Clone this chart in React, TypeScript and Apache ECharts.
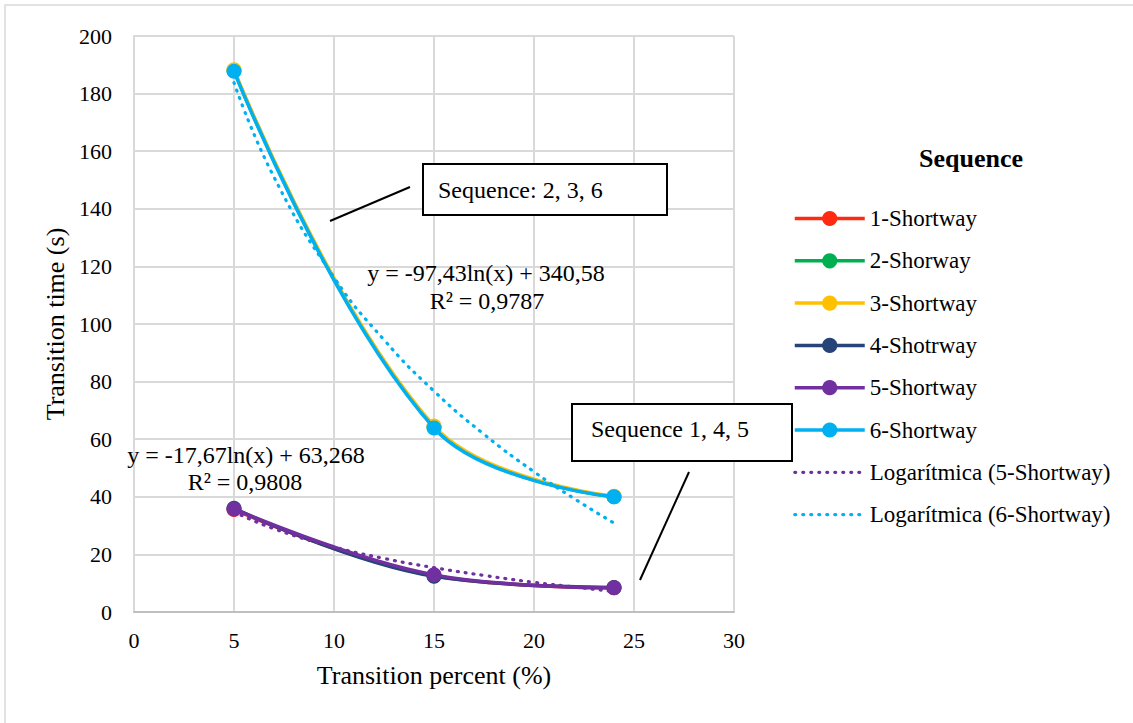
import React, { useEffect, useRef } from "react";
import * as echarts from "echarts";

const FONT = '"Liberation Serif", "Times New Roman", serif';

const xValues = [5, 15, 24];
const seriesNames = ["1-Shortway", "2-Shorway", "3-Shortway", "4-Shotrway", "5-Shortway", "6-Shortway"];
const seriesColors = ["#FF2A12", "#00B050", "#FFC000", "#264478", "#7030A0", "#00B0F0"];
const s1 = [35.6, 12.6, 8.4];
const s2 = [188, 64.2, 40];
const s3 = [188.3, 64.6, 40.2];
const s4 = [36, 12.4, 8.5];
const s5 = [35.8, 12.9, 8.4];
const s6 = [187.8, 63.9, 40];
const seriesValues = [s1, s2, s3, s4, s5, s6];

const trendX = [5, 7, 10, 12.5, 15, 17.5, 20, 22, 24];
const trend5 = [34.8, 28.9, 22.6, 18.6, 15.4, 12.7, 10.3, 8.7, 7.1];
const trend6 = [183.8, 151.0, 116.2, 94.5, 76.7, 61.7, 48.7, 39.4, 30.9];
const trendNames = ["Logarítmica (5-Shortway)", "Logarítmica (6-Shortway)"];
const trendColors = ["#7030A0", "#00B0F0"];
const trendValues = [trend5, trend6];

const xTicks = [0, 30, 5];
const yTicks = [0, 200, 20];

const DOT: [number, number] = [1, 7];

export default function App() {
  const ref = useRef<HTMLDivElement>(null);
  useEffect(() => {
    if (!ref.current) return;
    const chart = echarts.init(ref.current, undefined, { renderer: "svg" });
    const series: any[] = seriesNames.map((name, i) => ({
      name,
      type: "line",
      smooth: 0.4,
      data: xValues.map((x, j) => [x, seriesValues[i][j]]),
      symbol: "circle",
      symbolSize: 15,
      itemStyle: { color: seriesColors[i] },
      lineStyle: { color: seriesColors[i], width: 3.5 },
      z: 2 + i,
    }));
    trendNames.forEach((name, k) => {
      series.push({
        name,
        type: "line",
        smooth: true,
        data: trendX.map((x, j) => [x, trendValues[k][j]]),
        symbol: "none",
        itemStyle: { color: trendColors[k] },
        lineStyle: { color: trendColors[k], width: 3.2, type: DOT, cap: "round" },
        z: 10,
      });
    });

    const legendData: any[] = [
      ...seriesNames.map((name, i) => ({
        name,
        lineStyle: { width: 3.5, color: seriesColors[i] },
      })),
      ...trendNames.map((name, k) => ({
        name,
        itemStyle: { opacity: 0 },
        lineStyle: { width: 3.2, color: trendColors[k], type: DOT, cap: "round" },
      })),
    ];

    const eqStyle = { fill: "#000", font: `24px ${FONT}`, textAlign: "center", textVerticalAlign: "middle" };
    const boxText = { fill: "#000", font: `24px ${FONT}`, textVerticalAlign: "middle" };

    chart.setOption({
      animation: false,
      backgroundColor: "#fff",
      textStyle: { fontFamily: FONT },
      title: {
        text: "Sequence",
        left: 966,
        top: 140,
        textAlign: "center",
        textStyle: { fontFamily: FONT, fontWeight: "bold", fontSize: 26, color: "#000" },
      },
      legend: {
        orient: "vertical",
        left: 788,
        top: 202,
        itemWidth: 70,
        itemHeight: 19,
        itemGap: 19.3,
        data: legendData,
        textStyle: { fontFamily: FONT, fontSize: 23, color: "#000", lineHeight: 23 },
      },
      grid: { left: 134, top: 36, width: 600, height: 576, containLabel: false },
      xAxis: {
        type: "value",
        min: xTicks[0],
        max: xTicks[1],
        interval: xTicks[2],
        name: "Transition percent (%)",
        nameLocation: "middle",
        nameGap: 50,
        nameTextStyle: { fontFamily: FONT, fontSize: 26, color: "#000" },
        axisLine: { lineStyle: { color: "#bfbfbf", width: 2 } },
        axisTick: { show: false },
        axisLabel: { fontFamily: FONT, fontSize: 22, color: "#000", margin: 17 },
        splitLine: { lineStyle: { color: "#d9d9d9", width: 2 } },
      },
      yAxis: {
        type: "value",
        min: yTicks[0],
        max: yTicks[1],
        interval: yTicks[2],
        name: "Transition time (s)",
        nameLocation: "middle",
        nameGap: 64,
        nameRotate: 90,
        nameTextStyle: { fontFamily: FONT, fontSize: 26, color: "#000" },
        axisLine: { show: true, lineStyle: { color: "#d9d9d9", width: 2 } },
        axisTick: { show: false },
        axisLabel: { fontFamily: FONT, fontSize: 22, color: "#000", margin: 22 },
        splitLine: { lineStyle: { color: "#d9d9d9", width: 2 } },
      },
      series,
      graphic: [
        {
          type: "rect",
          z: 1,
          silent: true,
          shape: { x: 5, y: 5, width: 1140, height: 730 },
          style: { fill: "none", stroke: "#d9d9d9", lineWidth: 1.5 },
        },
        {
          type: "line",
          z: 100,
          shape: { x1: 330, y1: 221, x2: 410, y2: 187 },
          style: { stroke: "#000", lineWidth: 2 },
        },
        {
          type: "rect",
          z: 100,
          shape: { x: 423, y: 164, width: 244, height: 51 },
          style: { fill: "#fff", stroke: "#000", lineWidth: 2 },
        },
        { type: "text", z: 101, x: 438, y: 190, style: { ...boxText, text: "Sequence: 2, 3, 6" } },
        {
          type: "line",
          z: 100,
          shape: { x1: 689, y1: 472, x2: 640, y2: 580 },
          style: { stroke: "#000", lineWidth: 2 },
        },
        {
          type: "rect",
          z: 100,
          shape: { x: 572, y: 404, width: 220, height: 57 },
          style: { fill: "#fff", stroke: "#000", lineWidth: 2 },
        },
        { type: "text", z: 101, x: 591, y: 429, style: { ...boxText, text: "Sequence 1, 4, 5" } },
        { type: "text", z: 101, x: 486, y: 273, style: { ...eqStyle, text: "y = -97,43ln(x) + 340,58" } },
        { type: "text", z: 101, x: 487, y: 301, style: { ...eqStyle, text: "R² = 0,9787" } },
        { type: "text", z: 101, x: 246, y: 455, style: { ...eqStyle, text: "y = -17,67ln(x) + 63,268" } },
        { type: "text", z: 101, x: 245, y: 482, style: { ...eqStyle, text: "R² = 0,9808" } },
      ],
    });
    return () => chart.dispose();
  }, []);
  return <div ref={ref} style={{ width: 1133, height: 723, position: "absolute", left: 0, top: 0 }} />;
}
